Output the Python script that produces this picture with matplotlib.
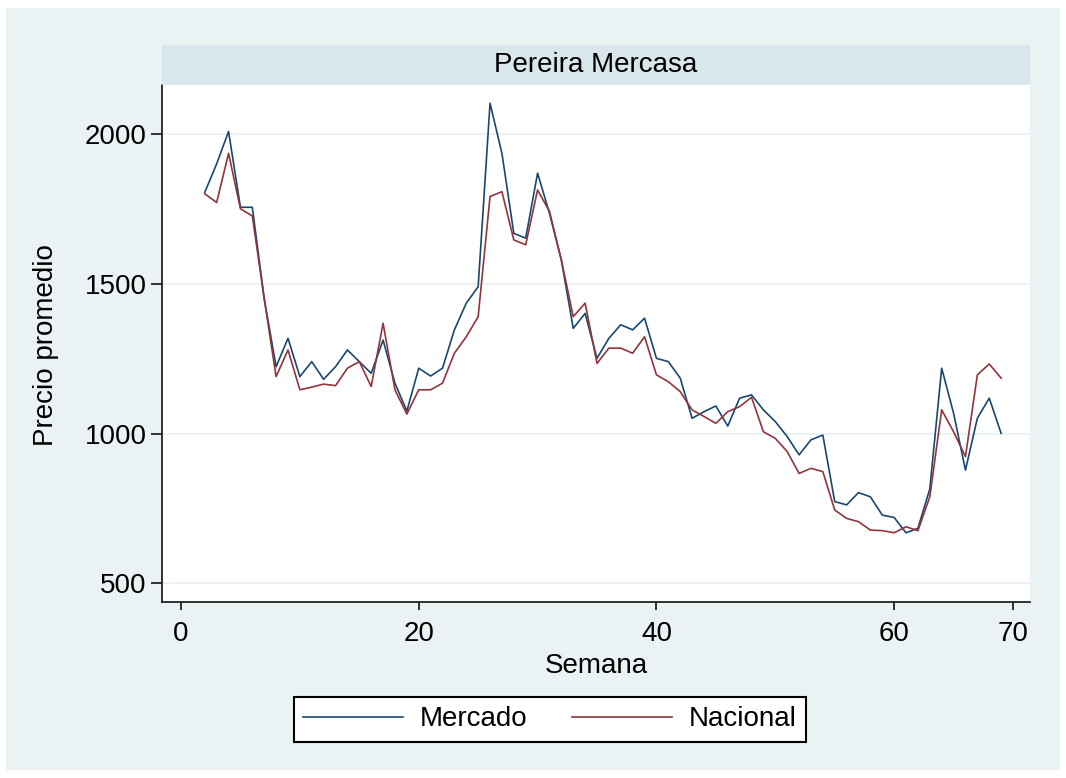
import numpy as np
import matplotlib
matplotlib.use("Agg")
import matplotlib.pyplot as plt
from matplotlib.patches import Rectangle

plt.rcParams['font.family'] = ['Liberation Sans', 'DejaVu Sans']

# weekly average prices
semana = list(range(2, 70))
mercado = [1805, 1900, 2008, 1755, 1755, 1450, 1223, 1318, 1190, 1240,
           1181, 1223, 1279, 1240, 1201, 1312, 1168, 1075, 1218, 1192,
           1218, 1346, 1435, 1490, 2102, 1935, 1668, 1652, 1869, 1735,
           1579, 1351, 1401, 1251, 1318, 1363, 1346, 1385, 1251, 1240,
           1185, 1051, 1073, 1092, 1025, 1118, 1129, 1079, 1040, 990,
           929, 979, 995, 773, 762, 803, 789, 728, 720, 669,
           684, 815, 1218, 1068, 878, 1051, 1118, 1001]
nacional = [1800, 1771, 1935, 1750, 1726, 1450, 1190, 1279, 1146, 1155,
            1165, 1160, 1218, 1240, 1157, 1368, 1146, 1065, 1146, 1146,
            1168, 1268, 1323, 1390, 1791, 1807, 1646, 1630, 1813, 1741,
            1579, 1390, 1435, 1234, 1285, 1285, 1268, 1323, 1196, 1173,
            1140, 1079, 1057, 1034, 1073, 1090, 1121, 1006, 984, 940,
            867, 884, 873, 745, 717, 706, 678, 676, 669, 689,
            676, 789, 1079, 1006, 923, 1196, 1232, 1185]

W, H = 1066, 778
bg = '#eaf2f3'
fig = plt.figure(figsize=(W / 100, H / 100), dpi=100, facecolor='white')
fig.patches.append(Rectangle((6 / W, 8 / H), (W - 12) / W, (H - 16) / H,
                             transform=fig.transFigure, facecolor=bg,
                             edgecolor='none', zorder=-10))

def px(l, t, r, b):
    return [l / W, 1 - b / H, (r - l) / W, (b - t) / H]

ax = fig.add_axes(px(162, 85, 1030, 602))
ax.set_facecolor('white')
ax.plot(semana, mercado, color='#1a476f', linewidth=1.2, label='Mercado')
ax.plot(semana, nacional, color='#90353b', linewidth=1.2, label='Nacional')

ax.set_xlim(-1.6, 71.43)
ax.set_ylim(438, 2163)
ax.set_xticks([0, 20, 40, 60, 70])
ax.set_yticks([500, 1000, 1500, 2000])
ax.yaxis.grid(True, color=bg, linewidth=1.5)
ax.set_axisbelow(True)
for s in ['top', 'right']:
    ax.spines[s].set_visible(False)
for s in ['left', 'bottom']:
    ax.spines[s].set_color('#222222')
    ax.spines[s].set_linewidth(1.3)
ax.tick_params(axis='x', labelsize=20, length=6, width=1.3, pad=8, color='#222222')
ax.tick_params(axis='y', labelsize=20, length=8, width=1.3, pad=3, color='#222222')
ax.set_xlabel('Semana', fontsize=20, labelpad=4)

fig.text(46 / W, 1 - 345 / H, 'Precio promedio', rotation=90, fontsize=20,
         ha='center', va='center')

# facet strip
strip = fig.add_axes(px(162, 45, 1030, 85))
strip.set_facecolor('#d9e6eb')
strip.set_xticks([])
strip.set_yticks([])
for s in strip.spines.values():
    s.set_visible(False)
strip.text(0.5, 0.5, 'Pereira Mercasa', fontsize=20, ha='center', va='center',
           transform=strip.transAxes)

leg = fig.legend(loc='center', bbox_to_anchor=(550 / W, 1 - 719.5 / H), ncol=2,
                 fontsize=20, handlelength=3.6, handletextpad=0.6,
                 columnspacing=1.6, borderpad=0.35, fancybox=False,
                 framealpha=1, edgecolor='black')
leg.get_frame().set_linewidth(1.5)

fig.savefig('out.png', dpi=100, facecolor='white')
